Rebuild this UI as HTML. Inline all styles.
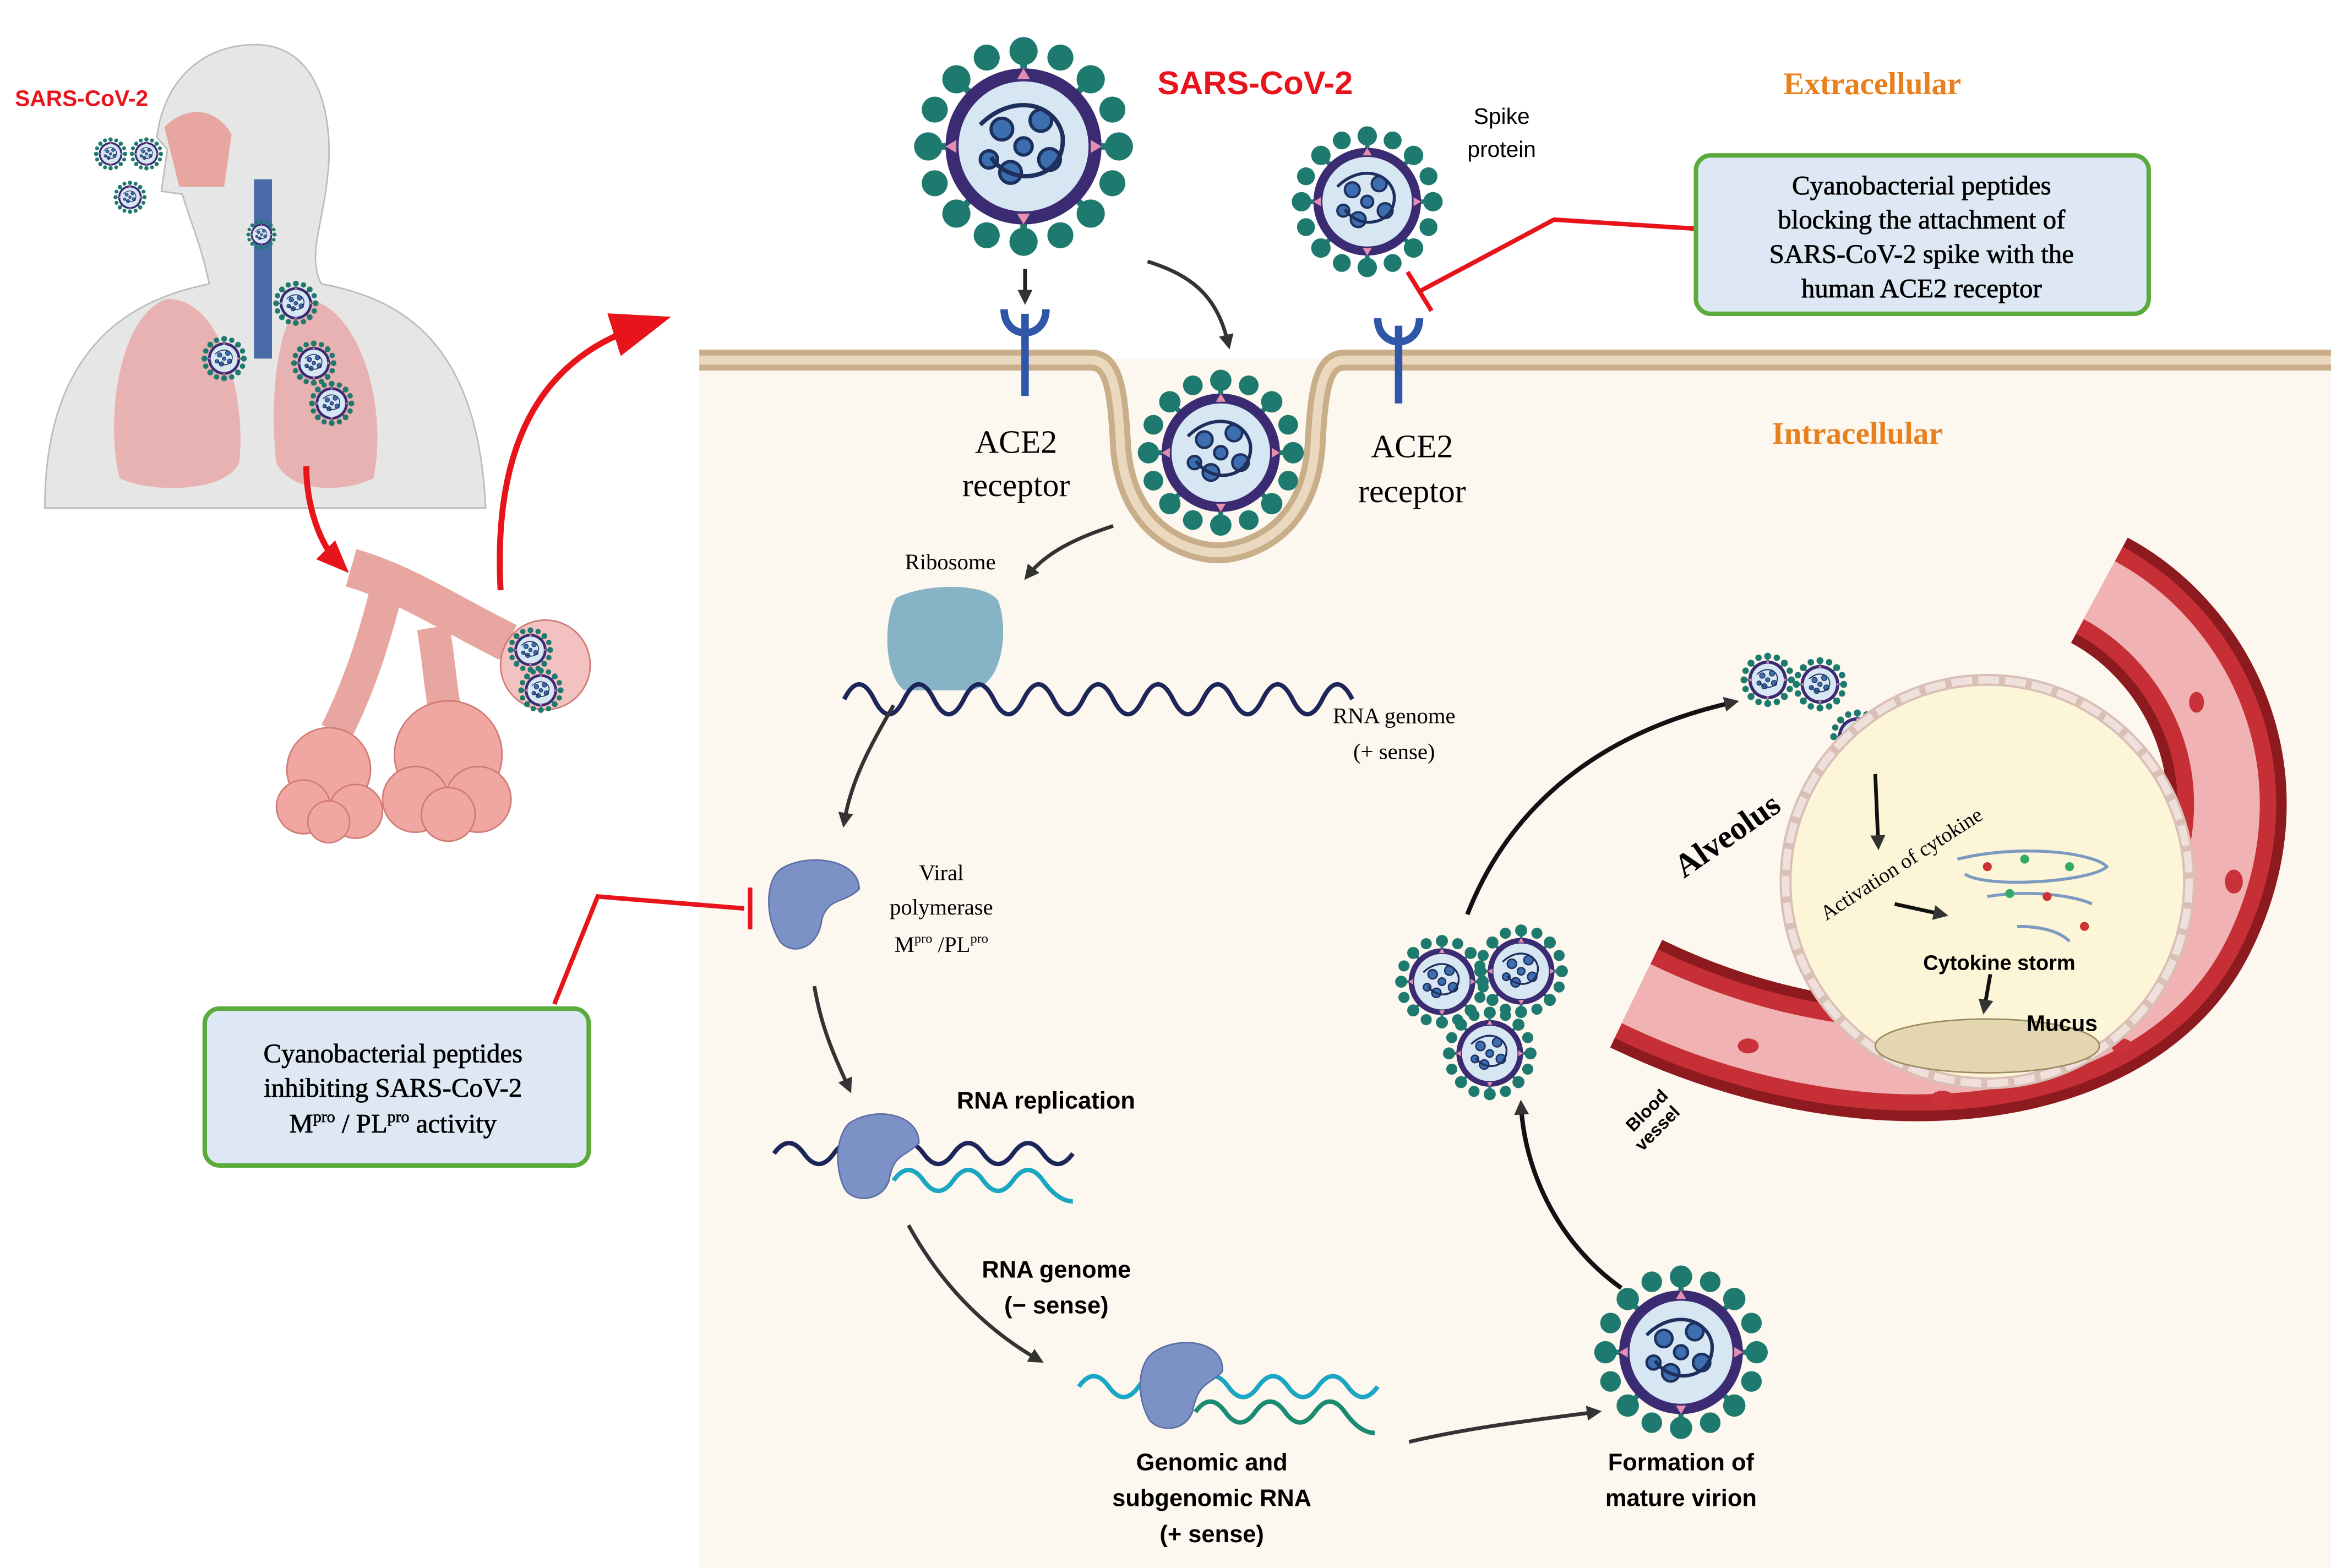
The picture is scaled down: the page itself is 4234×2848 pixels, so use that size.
<!DOCTYPE html>
<html><head><meta charset="utf-8"><style>
html,body{margin:0;padding:0;background:#fff;}
svg{display:block;}
.s{font-family:"Liberation Sans",sans-serif;}
.r{font-family:"Liberation Serif",serif;}
</style></head><body>
<svg width="4234" height="2848" viewBox="0 0 1560 1049.4" preserveAspectRatio="none" xmlns="http://www.w3.org/2000/svg">
<defs>
<g id="v">
 <g fill="#1e7a6e">
  <circle cx="0" cy="-44" r="6.5"/><circle cx="0" cy="44" r="6.5"/><circle cx="-44" cy="0" r="6.5"/><circle cx="44" cy="0" r="6.5"/>
  <circle cx="31" cy="31" r="6.5"/><circle cx="-31" cy="31" r="6.5"/><circle cx="31" cy="-31" r="6.5"/><circle cx="-31" cy="-31" r="6.5"/>
  <circle cx="17" cy="-41" r="6"/><circle cx="-41" cy="17" r="6"/><circle cx="41" cy="-17" r="6"/><circle cx="-17" cy="41" r="6"/>
  <circle cx="-17" cy="-41" r="6"/><circle cx="41" cy="17" r="6"/><circle cx="-41" cy="-17" r="6"/><circle cx="17" cy="41" r="6"/>
 </g>
 <g stroke="#1e7a6e" stroke-width="3">
  <path d="M0,-36 L0,-40 M0,36 L0,40 M-36,0 L-40,0 M36,0 L40,0 M25,25 L28,28 M-25,25 L-28,28 M25,-25 L28,-28 M-25,-25 L-28,-28"/>
 </g>
 <circle r="36" fill="#3b2b72"/>
 <circle r="30" fill="#d6e6f3"/>
 <g fill="#e58fb0"><path d="M0,-36 l-3,5 h6z"/><path d="M0,36 l-3,-5 h6z"/><path d="M-36,0 l5,-3 v6z"/><path d="M36,0 l-5,-3 v6z"/></g>
 <g fill="#3d6fb0" stroke="#1d2f5c" stroke-width="1.5">
  <circle cx="-10" cy="-8" r="5"/><circle cx="8" cy="-12" r="5"/><circle cx="12" cy="6" r="5"/><circle cx="-6" cy="12" r="5"/><circle cx="0" cy="0" r="4"/><circle cx="-16" cy="6" r="4"/>
 </g>
 <path d="M-20,-10 C-5,-25 15,-20 18,-5 C20,15 -5,20 -15,5" fill="none" stroke="#1d2f5c" stroke-width="2"/>
</g>
<marker id="ab" markerWidth="10" markerHeight="10" refX="6" refY="5" orient="auto" markerUnits="userSpaceOnUse"><path d="M0,0 L10,5 L0,10 z" fill="#333"/></marker>
<marker id="ar" markerWidth="40" markerHeight="40" refX="20" refY="20" orient="auto" markerUnits="userSpaceOnUse"><path d="M0,5 L40,20 L0,35 z" fill="#e8141b"/></marker>
<marker id="ar2" markerWidth="22" markerHeight="22" refX="10" refY="11" orient="auto" markerUnits="userSpaceOnUse"><path d="M0,2 L22,11 L0,20 z" fill="#e8141b"/></marker>
</defs>

<rect x="468" y="240" width="1092" height="810" fill="#fcf7ef"/>
<path d="M468,241 L730,241 C745,241 748,260 750,300 C755,360 800,370 815,370 C830,370 875,360 880,300 C882,260 885,241 900,241 L1560,241" fill="none" stroke="#c9ae8a" stroke-width="14"/>
<path d="M468,241 L730,241 C745,241 748,260 750,300 C755,360 800,370 815,370 C830,370 875,360 880,300 C882,260 885,241 900,241 L1560,241" fill="none" stroke="#ead9bf" stroke-width="6"/>

<!-- human figure -->
<path d="M30,340 C30,230 90,200 140,190 C135,165 128,150 122,130 L108,128 L112,100 L105,92 C110,50 140,28 175,30 C210,33 222,70 220,110 C217,150 205,170 215,190 C270,200 320,230 325,340 Z" fill="#e6e6e6" stroke="#bbb"/>
<path d="M110,85 C125,70 145,72 155,90 L150,125 L120,125 Z" fill="#e8a6a0"/>
<path d="M112,200 C80,210 70,280 80,320 C100,330 150,330 160,310 C165,270 150,200 112,200 Z" fill="#e9a8a8" opacity=".85"/>
<path d="M205,200 C240,205 260,270 250,320 C230,330 195,330 185,310 C180,270 185,210 205,200 Z" fill="#e9a8a8" opacity=".85"/>
<rect x="170" y="120" width="12" height="120" fill="#4a6aa8"/>
<use href="#v" transform="translate(74,103) scale(.22)"/><use href="#v" transform="translate(98,103) scale(.22)"/><use href="#v" transform="translate(87,132) scale(.22)"/>
<use href="#v" transform="translate(175,157) scale(.2)"/><use href="#v" transform="translate(198,203) scale(.3)"/><use href="#v" transform="translate(150,240) scale(.3)"/><use href="#v" transform="translate(210,243) scale(.3)"/><use href="#v" transform="translate(222,270) scale(.3)"/>
<text x="10" y="71" class="s" font-size="15" font-weight="bold" fill="#e8141b">SARS-CoV-2</text>

<!-- alveoli -->
<path d="M235,380 C270,390 300,410 340,430" stroke="#e8a6a0" stroke-width="26" fill="none"/>
<path d="M260,390 C250,430 240,460 225,490" stroke="#e8a6a0" stroke-width="22" fill="none"/>
<path d="M290,420 C295,450 295,470 300,480" stroke="#e8a6a0" stroke-width="22" fill="none"/>
<g fill="#f0a7a2" stroke="#d07a76">
<circle cx="220" cy="515" r="28"/><circle cx="203" cy="540" r="18"/><circle cx="238" cy="543" r="18"/><circle cx="220" cy="550" r="14"/>
<circle cx="300" cy="505" r="36"/><circle cx="278" cy="535" r="22"/><circle cx="320" cy="535" r="22"/><circle cx="300" cy="545" r="18"/>
</g>
<circle cx="365" cy="445" r="30" fill="#f3c2c0" stroke="#d07a76"/>
<use href="#v" transform="translate(355,435) scale(.3)"/><use href="#v" transform="translate(362,462) scale(.3)"/>

<path d="M335,395 C330,300 360,240 430,218" stroke="#e8141b" stroke-width="4" fill="none" marker-end="url(#ar)"/>
<path d="M205,312 C205,340 215,365 225,375" stroke="#e8141b" stroke-width="4" fill="none" marker-end="url(#ar2)"/>

<use href="#v" transform="translate(685,98) scale(1.45)"/>
<use href="#v" transform="translate(915,135) scale(1.0)"/>
<use href="#v" transform="translate(817,303) scale(1.1)"/>
<use href="#v" transform="translate(1125,905) scale(1.15)"/>
<use href="#v" transform="translate(965,657) scale(.62)"/><use href="#v" transform="translate(1018,650) scale(.62)"/><use href="#v" transform="translate(997,705) scale(.62)"/>
<use href="#v" transform="translate(1183,455) scale(.36)"/><use href="#v" transform="translate(1218,458) scale(.36)"/><use href="#v" transform="translate(1243,493) scale(.36)"/>

<text x="840" y="63" class="s" font-size="22" font-weight="bold" fill="#e8141b" text-anchor="middle">SARS-CoV-2</text>
<text x="1253" y="63" class="r" font-size="21" font-weight="bold" fill="#e8801e" text-anchor="middle">Extracellular</text>
<text x="1243" y="297" class="r" font-size="21" font-weight="bold" fill="#e8801e" text-anchor="middle">Intracellular</text>
<text x="1005" y="83" class="s" font-size="15" text-anchor="middle">Spike</text>
<text x="1005" y="105" class="s" font-size="15" text-anchor="middle">protein</text>

<g stroke="#2f56a8" stroke-width="5" fill="none">
<path d="M686,210 L686,265"/><path d="M672,207 C672,228 700,228 700,207"/>
<path d="M936,218 L936,270"/><path d="M922,213 C922,234 950,234 950,213"/>
</g>
<path d="M686,180 L686,200" stroke="#222" stroke-width="2.5" marker-end="url(#ab)"/>
<path d="M768,175 C800,185 815,200 822,230" stroke="#333" stroke-width="2.5" fill="none" marker-end="url(#ab)"/>
<text x="680" y="303" class="r" font-size="22" text-anchor="middle">ACE2</text>
<text x="680" y="332" class="r" font-size="22" text-anchor="middle">receptor</text>
<text x="945" y="306" class="r" font-size="22" text-anchor="middle">ACE2</text>
<text x="945" y="336" class="r" font-size="22" text-anchor="middle">receptor</text>

<path d="M1134,153 L1040,147 L950,195" stroke="#e8141b" stroke-width="3" fill="none"/>
<path d="M942,182 L958,208" stroke="#e8141b" stroke-width="3"/>
<rect x="1135" y="104" width="303" height="106" rx="10" fill="#dde8f4" stroke="#5aab3b" stroke-width="3"/>
<g class="r" font-size="18" text-anchor="middle" fill="#000" stroke="#000" stroke-width="0.3">
<text x="1286" y="130">Cyanobacterial peptides</text>
<text x="1286" y="153">blocking the attachment of</text>
<text x="1286" y="176">SARS-CoV-2 spike with the</text>
<text x="1286" y="199">human ACE2 receptor</text>
</g>

<path d="M745,352 C720,360 700,370 688,385" stroke="#333" stroke-width="2.5" fill="none" marker-end="url(#ab)"/>
<text x="636" y="381" class="r" font-size="15" text-anchor="middle">Ribosome</text>
<path d="M600,400 C620,390 660,390 668,402 C675,420 672,458 650,462 L605,462 C590,450 592,410 600,400Z" fill="#86b3c6"/>
<path d="M565,468 q10,-20 20,0 t20,0 t20,0 t20,0 t20,0 t20,0 t20,0 t20,0 t20,0 t20,0 t20,0 t20,0 t20,0 t20,0 t20,0 t20,0 t20,0" stroke="#1d2659" stroke-width="3" fill="none"/>
<text x="933" y="484" class="r" font-size="15" text-anchor="middle">RNA genome</text>
<text x="933" y="508" class="r" font-size="15" text-anchor="middle">(+ sense)</text>
<path d="M598,472 C585,495 570,520 565,550" stroke="#333" stroke-width="2.5" fill="none" marker-end="url(#ab)"/>

<path d="M522,582 C540,570 575,575 575,595 C565,605 555,600 550,615 C548,635 530,640 522,630 C512,615 512,590 522,582Z" fill="#7c92c7" stroke="#5b6fa5"/>
<g class="r" font-size="15" text-anchor="middle">
<text x="630" y="589">Viral</text><text x="630" y="612">polymerase</text>
<text x="630" y="637">M<tspan font-size="9" dy="-6">pro</tspan><tspan dy="6"> /PL</tspan><tspan font-size="9" dy="-6">pro</tspan></text>
</g>
<path d="M371,672 L400,600 L498,608" stroke="#e8141b" stroke-width="3" fill="none"/>
<path d="M502,594 L502,622" stroke="#e8141b" stroke-width="3"/>
<rect x="137" y="675" width="257" height="105" rx="10" fill="#dde8f4" stroke="#5aab3b" stroke-width="3"/>
<g class="r" font-size="18" text-anchor="middle" fill="#000" stroke="#000" stroke-width="0.3">
<text x="263" y="711">Cyanobacterial peptides</text>
<text x="263" y="734">inhibiting SARS-CoV-2</text>
<text x="263" y="758">M<tspan font-size="11" dy="-7">pro</tspan><tspan dy="7"> / PL</tspan><tspan font-size="11" dy="-7">pro</tspan><tspan dy="7"> activity</tspan></text>
</g>

<path d="M545,660 C550,690 560,710 568,728" stroke="#333" stroke-width="2.5" fill="none" marker-end="url(#ab)"/>
<path d="M518,772 q10,-14 20,0 t20,0 t20,0 t20,0 t20,0 t20,0 t20,0 t20,0 t20,0 t20,0" stroke="#1d2659" stroke-width="3" fill="none"/>
<path d="M598,790 q10,-14 20,0 t20,0 t20,0 t20,0 t20,0 t20,14" stroke="#1ba6c2" stroke-width="3" fill="none"/>
<path d="M568,752 C585,740 615,745 615,765 C605,775 598,772 595,790 C590,805 570,805 565,795 C558,780 560,760 568,752Z" fill="#7c92c7" stroke="#5b6fa5"/>
<text x="700" y="742" class="s" font-size="16" font-weight="bold" text-anchor="middle">RNA replication</text>
<path d="M608,820 C630,860 660,890 695,910" stroke="#333" stroke-width="2.5" fill="none" marker-end="url(#ab)"/>
<text x="707" y="855" class="s" font-size="16" font-weight="bold" text-anchor="middle">RNA genome</text>
<text x="707" y="879" class="s" font-size="16" font-weight="bold" text-anchor="middle">(− sense)</text>

<path d="M722,928 q10,-14 20,0 t20,0 t20,0 t20,0 t20,0 t20,0 t20,0 t20,0 t20,0 t20,0" stroke="#1ba6c2" stroke-width="3" fill="none"/>
<path d="M800,945 q10,-14 20,0 t20,0 t20,0 t20,0 t20,0 t20,14" stroke="#1a8a70" stroke-width="3" fill="none"/>
<path d="M772,905 C790,893 820,898 818,918 C808,928 802,925 798,945 C792,960 772,958 768,948 C760,932 762,912 772,905Z" fill="#7c92c7" stroke="#5b6fa5"/>
<g class="s" font-size="16" font-weight="bold" text-anchor="middle">
<text x="811" y="984">Genomic and</text><text x="811" y="1008">subgenomic RNA</text><text x="811" y="1032">(+ sense)</text>
<text x="1125" y="984">Formation of</text><text x="1125" y="1008">mature virion</text>
</g>
<path d="M943,965 C985,955 1030,950 1068,945" stroke="#333" stroke-width="2.5" fill="none" marker-end="url(#ab)"/>
<path d="M1085,862 C1040,830 1020,780 1018,740" stroke="#111" stroke-width="3" fill="none" marker-end="url(#ab)"/>
<path d="M982,612 C1010,540 1070,490 1160,470" stroke="#111" stroke-width="3" fill="none" marker-end="url(#ab)"/>

<path d="M1095,665 C1250,740 1420,720 1470,620 C1520,520 1470,430 1405,395" stroke="#8d1a1f" stroke-width="80" fill="none"/>
<path d="M1095,665 C1250,740 1420,720 1470,620 C1520,520 1470,430 1405,395" stroke="#c52f35" stroke-width="66" fill="none"/>
<path d="M1095,665 C1250,740 1420,720 1470,620 C1520,520 1470,430 1405,395" stroke="#f0b2b2" stroke-width="44" fill="none"/>
<g fill="#c9323a"><ellipse cx="1170" cy="700" rx="7" ry="5"/><ellipse cx="1300" cy="735" rx="8" ry="5"/><ellipse cx="1420" cy="700" rx="7" ry="5"/><ellipse cx="1495" cy="590" rx="6" ry="8"/><ellipse cx="1470" cy="470" rx="5" ry="7"/></g>
<circle cx="1330" cy="590" r="135" fill="#fdf5d8" stroke="#d9bfb5" stroke-width="8"/>
<circle cx="1330" cy="590" r="135" fill="none" stroke="#efe0dc" stroke-width="5" stroke-dasharray="14 4"/>
<ellipse cx="1330" cy="700" rx="75" ry="18" fill="#e3d6b0" stroke="#9a8a60"/>
<path d="M1310,575 c40,-10 90,-5 100,5 c-10,10 -80,15 -95,5 M1330,600 c30,-5 60,0 70,5 M1350,620 c20,0 30,5 35,10" stroke="#7a9ac0" stroke-width="2" fill="none"/>
<g fill="#c33"><circle cx="1330" cy="580" r="3"/><circle cx="1370" cy="600" r="3"/><circle cx="1395" cy="620" r="3"/></g>
<g fill="#3a6"><circle cx="1355" cy="575" r="3"/><circle cx="1345" cy="598" r="3"/><circle cx="1385" cy="580" r="3"/></g>
<path d="M1255,518 L1257,565" stroke="#111" stroke-width="2.5" marker-end="url(#ab)"/>
<path d="M1268,605 L1300,612" stroke="#111" stroke-width="2.5" marker-end="url(#ab)"/>
<path d="M1332,652 L1328,675" stroke="#111" stroke-width="2.5" marker-end="url(#ab)"/>
<text x="1160" y="565" class="r" font-size="22" font-weight="bold" text-anchor="middle" transform="rotate(-35 1160 565)">Alveolus</text>
<text x="1275" y="582" class="r" font-size="14" text-anchor="middle" transform="rotate(-33 1275 582)">Activation of cytokine</text>
<text x="1338" y="649" class="s" font-size="14" font-weight="bold" text-anchor="middle">Cytokine storm</text>
<text x="1380" y="690" class="s" font-size="15" font-weight="bold" text-anchor="middle">Mucus</text>
<text x="1105" y="746" class="s" font-size="12" font-weight="bold" text-anchor="middle" transform="rotate(-45 1105 746)">Blood</text>
<text x="1112" y="758" class="s" font-size="12" font-weight="bold" text-anchor="middle" transform="rotate(-45 1112 758)">vessel</text>
</svg>
</body></html>
